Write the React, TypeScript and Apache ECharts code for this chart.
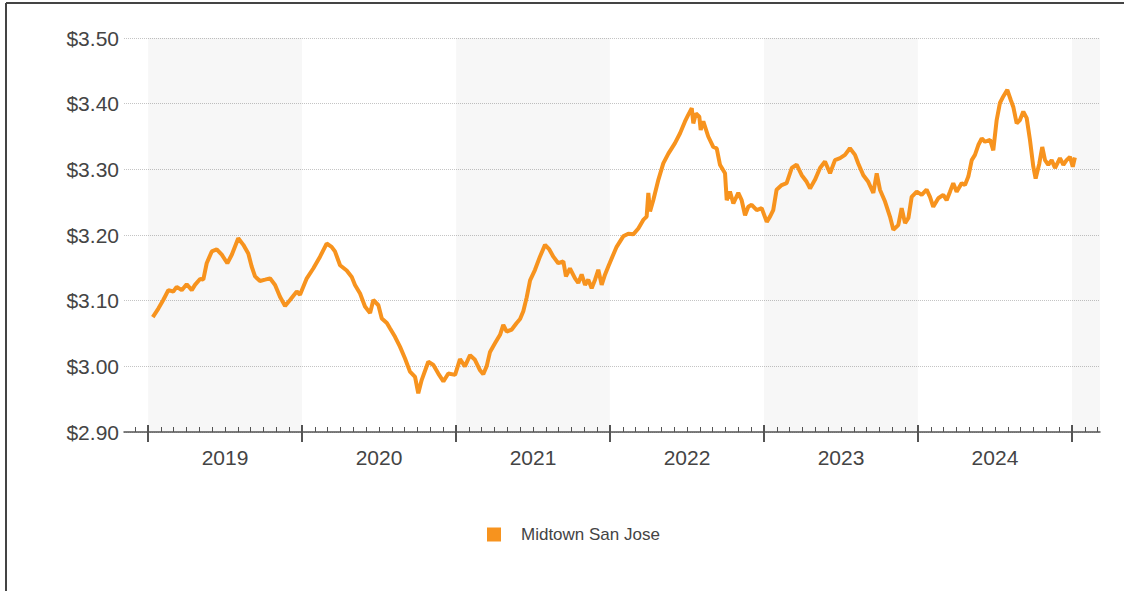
import React, { useEffect, useRef } from "react";
import * as echarts from "echarts";

// Decimal-year positions of each observation
const dates: number[] = [
  2019.031, 2019.067, 2019.099, 2019.132, 2019.164, 2019.186, 2019.219, 2019.251, 2019.284, 2019.305,
  2019.338, 2019.359, 2019.381, 2019.414, 2019.446, 2019.479, 2019.515, 2019.544, 2019.586, 2019.619,
  2019.651, 2019.673, 2019.695, 2019.727, 2019.760, 2019.792, 2019.825, 2019.857, 2019.890, 2019.922,
  2019.966, 2019.987, 2020.031, 2020.073, 2020.117, 2020.160, 2020.192, 2020.214, 2020.247, 2020.290,
  2020.323, 2020.344, 2020.377, 2020.409, 2020.442, 2020.463, 2020.496, 2020.518, 2020.551, 2020.571,
  2020.604, 2020.636, 2020.669, 2020.701, 2020.734, 2020.755, 2020.777, 2020.820, 2020.853, 2020.885,
  2020.918, 2020.950, 2020.994, 2021.026, 2021.058, 2021.091, 2021.123, 2021.156, 2021.177, 2021.199,
  2021.221, 2021.253, 2021.286, 2021.307, 2021.329, 2021.362, 2021.394, 2021.416, 2021.437, 2021.459,
  2021.481, 2021.513, 2021.545, 2021.578, 2021.606, 2021.632, 2021.664, 2021.697, 2021.714, 2021.740,
  2021.773, 2021.794, 2021.816, 2021.838, 2021.859, 2021.881, 2021.903, 2021.924, 2021.946, 2021.968,
  2021.989, 2022.021, 2022.043, 2022.086, 2022.119, 2022.151, 2022.184, 2022.216, 2022.238, 2022.249,
  2022.260, 2022.281, 2022.314, 2022.346, 2022.379, 2022.422, 2022.455, 2022.487, 2022.508, 2022.531,
  2022.541, 2022.558, 2022.580, 2022.589, 2022.606, 2022.638, 2022.671, 2022.693, 2022.714, 2022.747,
  2022.758, 2022.779, 2022.801, 2022.833, 2022.855, 2022.877, 2022.898, 2022.920, 2022.953, 2022.985,
  2023.018, 2023.039, 2023.060, 2023.082, 2023.115, 2023.147, 2023.180, 2023.212, 2023.245, 2023.277,
  2023.299, 2023.331, 2023.364, 2023.396, 2023.429, 2023.461, 2023.494, 2023.526, 2023.558, 2023.591,
  2023.612, 2023.645, 2023.677, 2023.710, 2023.732, 2023.753, 2023.786, 2023.818, 2023.840, 2023.872,
  2023.894, 2023.916, 2023.938, 2023.959, 2023.992, 2024.024, 2024.056, 2024.078, 2024.099, 2024.132,
  2024.164, 2024.186, 2024.208, 2024.229, 2024.251, 2024.284, 2024.305, 2024.327, 2024.349, 2024.370,
  2024.392, 2024.414, 2024.435, 2024.468, 2024.489, 2024.511, 2024.532, 2024.554, 2024.580, 2024.602,
  2024.619, 2024.641, 2024.662, 2024.684, 2024.706, 2024.727, 2024.749, 2024.764, 2024.788, 2024.807,
  2024.825, 2024.846, 2024.868, 2024.890, 2024.922, 2024.944, 2024.965, 2024.987, 2025.005, 2025.019,
];

const prices: number[] = [
  3.075, 3.088, 3.101, 3.116, 3.114, 3.121, 3.116, 3.125, 3.116, 3.124,
  3.133, 3.132, 3.157, 3.175, 3.178, 3.170, 3.157, 3.170, 3.195, 3.185,
  3.172, 3.152, 3.137, 3.130, 3.132, 3.134, 3.124, 3.106, 3.092, 3.101,
  3.114, 3.109, 3.134, 3.149, 3.167, 3.187, 3.182, 3.175, 3.154, 3.146,
  3.136, 3.124, 3.111, 3.091, 3.081, 3.101, 3.093, 3.073, 3.066, 3.058,
  3.045, 3.030, 3.012, 2.992, 2.984, 2.959, 2.979, 3.007, 3.002, 2.989,
  2.977, 2.989, 2.987, 3.011, 3.000, 3.017, 3.010, 2.994, 2.988, 3.000,
  3.022, 3.035, 3.048, 3.063, 3.053, 3.056, 3.066, 3.072, 3.084, 3.105,
  3.131, 3.147, 3.167, 3.185, 3.178, 3.167, 3.157, 3.160, 3.137, 3.149,
  3.134, 3.127, 3.140, 3.124, 3.132, 3.119, 3.132, 3.147, 3.124, 3.140,
  3.152, 3.170, 3.182, 3.198, 3.202, 3.201, 3.210, 3.223, 3.228, 3.264,
  3.236, 3.253, 3.284, 3.309, 3.324, 3.340, 3.355, 3.373, 3.383, 3.393,
  3.370, 3.385, 3.380, 3.360, 3.373, 3.350, 3.334, 3.332, 3.307, 3.294,
  3.253, 3.266, 3.248, 3.264, 3.253, 3.230, 3.243, 3.246, 3.238, 3.241,
  3.220, 3.228, 3.238, 3.269, 3.276, 3.279, 3.302, 3.307, 3.291, 3.281,
  3.271, 3.284, 3.302, 3.312, 3.294, 3.314, 3.317, 3.322, 3.332, 3.322,
  3.309, 3.291, 3.281, 3.264, 3.294, 3.269, 3.251, 3.228, 3.208, 3.215,
  3.241, 3.218, 3.226, 3.258, 3.266, 3.261, 3.269, 3.258, 3.243, 3.256,
  3.261, 3.253, 3.266, 3.279, 3.266, 3.279, 3.276, 3.289, 3.314, 3.322,
  3.337, 3.347, 3.342, 3.345, 3.329, 3.375, 3.401, 3.411, 3.421, 3.406,
  3.395, 3.370, 3.375, 3.388, 3.378, 3.345, 3.304, 3.286, 3.309, 3.334,
  3.314, 3.307, 3.314, 3.302, 3.317, 3.307, 3.314, 3.319, 3.304, 3.318,
];

const seriesName = "Midtown San Jose";
const yearTicks: number[] = [2019, 2020, 2021, 2022, 2023, 2024, 2025];
const yearLabels: number[] = [2019, 2020, 2021, 2022, 2023, 2024];
const shadedYears: number[] = [2019, 2021, 2023, 2025];
const X_MIN = 2018.844;
const X_MAX = 2025.182;
const Y_MIN = 2.9;
const Y_MAX = 3.5;
const Y_STEP = 0.1;

const LINE_COLOR = "#f7931e";
const AXIS_COLOR = "#555";
const TEXT_COLOR = "#444";

export default function App() {
  const ref = useRef<HTMLDivElement>(null);

  useEffect(() => {
    if (!ref.current) return;
    const chart = echarts.init(ref.current, undefined, { renderer: "svg" });

    const monthTicks: number[] = [];
    for (let y = 2018; y <= 2025; y++) {
      for (let m = 0; m < 12; m++) {
        const v = y + m / 12;
        if (v >= X_MIN && v <= X_MAX) monthTicks.push(v);
      }
    }
    const labelPos = yearLabels.map((y) => y + 0.5);
    const data = dates.map((d, i) => [d, prices[i]]);
    const bands = shadedYears.map((y) => [
      { xAxis: y },
      { xAxis: Math.min(y + 1, X_MAX) },
    ]);

    const baseX = {
      type: "value",
      min: X_MIN,
      max: X_MAX,
      position: "bottom",
      offset: 0,
      splitLine: { show: false },
    };

    chart.setOption({
      animation: false,
      textStyle: { fontFamily: "Liberation Sans, Arial, sans-serif" },
      grid: { left: 124, right: 24, top: 38, bottom: 159, containLabel: false },
      legend: {
        left: 482,
        top: 521,
        icon: "rect",
        itemWidth: 14,
        itemHeight: 14,
        itemGap: 10,
        data: [{ name: seriesName, itemStyle: { color: LINE_COLOR } }],
        textStyle: {
          fontSize: 17,
          color: TEXT_COLOR,
          padding: [0, 0, 0, 15],
        },
      },
      xAxis: [
        {
          ...baseX,
          axisLine: { show: true, lineStyle: { color: AXIS_COLOR, width: 1.5 } },
          axisTick: {
            show: true,
            inside: true,
            length: 5,
            customValues: monthTicks,
            lineStyle: { color: AXIS_COLOR, width: 1 },
          },
          axisLabel: {
            show: true,
            customValues: labelPos,
            formatter: (v: number) => String(Math.floor(v)),
            fontSize: 21,
            color: TEXT_COLOR,
            margin: 15,
          },
        },
        {
          ...baseX,
          axisLine: { show: false },
          axisTick: {
            show: true,
            inside: true,
            length: 7,
            customValues: yearTicks,
            lineStyle: { color: AXIS_COLOR, width: 2 },
          },
          axisLabel: { show: false },
        },
        {
          ...baseX,
          axisLine: { show: false },
          axisTick: {
            show: true,
            inside: false,
            length: 10,
            customValues: yearTicks,
            lineStyle: { color: AXIS_COLOR, width: 2 },
          },
          axisLabel: { show: false },
        },
      ],
      yAxis: {
        type: "value",
        min: Y_MIN,
        max: Y_MAX,
        interval: Y_STEP,
        axisLine: { show: false },
        axisTick: { show: false },
        axisLabel: {
          fontSize: 21,
          color: TEXT_COLOR,
          margin: 5,
          formatter: (v: number) => "$" + v.toFixed(2),
        },
        splitLine: {
          show: true,
          lineStyle: { color: "#c4c4c4", type: "dotted", width: 1 },
        },
      },
      graphic: [
        {
          type: "line",
          shape: { x1: 6, y1: 3, x2: 1124, y2: 3 },
          style: { stroke: "#444", lineWidth: 2 },
          silent: true,
        },
        {
          type: "line",
          shape: { x1: 6, y1: 3, x2: 6, y2: 591 },
          style: { stroke: "#444", lineWidth: 2 },
          silent: true,
        },
      ],
      series: [
        {
          name: seriesName,
          type: "line",
          xAxisIndex: 0,
          data,
          showSymbol: false,
          symbol: "none",
          lineStyle: { color: LINE_COLOR, width: 4 },
          itemStyle: { color: LINE_COLOR },
          z: 3,
          markArea: {
            silent: true,
            itemStyle: { color: "rgba(0,0,0,0.03)" },
            data: bands,
          },
        },
      ],
    });

    return () => chart.dispose();
  }, []);

  return (
    <div
      ref={ref}
      style={{ position: "absolute", left: 0, top: 0, width: 1124, height: 591 }}
    />
  );
}
